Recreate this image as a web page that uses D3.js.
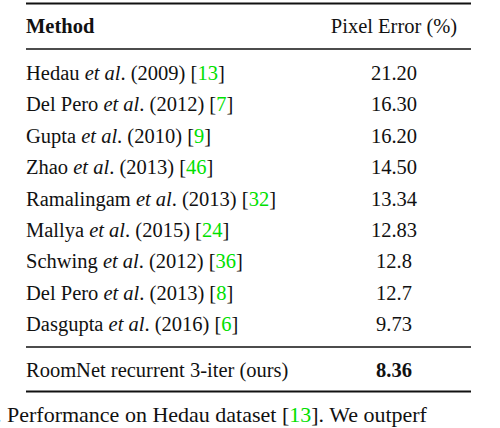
<!DOCTYPE html><html><head><meta charset="utf-8">
<script src="https://cdn.jsdelivr.net/npm/d3@7"></script>
<style>body{margin:0;background:#fff}</style></head><body>
<svg id="c" width="500" height="428"></svg>
<script>
const authors=["Hedau","Del Pero","Gupta","Zhao","Ramalingam","Mallya","Schwing","Del Pero","Dasgupta"];
const years=["2009","2012","2010","2013","2013","2015","2012","2013","2016"];
const refs=["13","7","9","46","32","24","36","8","6"];
const errors=["21.20","16.30","16.20","14.50","13.34","12.83","12.8","12.7","9.73"];
const oursLabel="RoomNet recurrent 3-iter (ours)", oursValue="8.36";
const headers=["Method","Pixel Error (%)"];

const FF="'Liberation Serif','Times New Roman','DejaVu Serif',serif";
const svg=d3.select("#c").style("font-family",FF);
const xL=26,xR=471,xC=394,fs=20.5;
const y=d3.scaleLinear().domain([0,8]).range([80,331.2]);
function txt(x,yy){return svg.append("text").attr("x",x).attr("y",yy).attr("font-size",fs).attr("font-family",FF).attr("fill","#111");}
function rule(yy,w){svg.append("line").attr("x1",xL).attr("x2",xR).attr("y1",yy).attr("y2",yy).attr("stroke","#111").attr("stroke-width",w);}
rule(3.5,2);rule(49,1.3);rule(347,1.3);rule(391.5,2);
txt(xL,33).attr("font-weight","bold").text(headers[0]);
txt(xC,33).attr("text-anchor","middle").text(headers[1]);
authors.forEach((a,i)=>{
  const t=txt(xL,y(i));
  t.append("tspan").text(a+" ");
  t.append("tspan").attr("font-style","italic").text("et al");
  t.append("tspan").text(". ("+years[i]+") [");
  t.append("tspan").attr("fill","#00e000").text(refs[i]);
  t.append("tspan").text("]");
  txt(xC,y(i)).attr("text-anchor","middle").text(errors[i]);
});
txt(xL,377).text(oursLabel);
txt(xC,377).attr("font-weight","bold").attr("text-anchor","middle").text(oursValue);
const cap=txt(-4,422).attr("font-size",22);
cap.append("tspan").text(". Performance on Hedau dataset [");
cap.append("tspan").attr("fill","#00e000").text("13");
cap.append("tspan").text("].  We outperf");
</script></body></html>
